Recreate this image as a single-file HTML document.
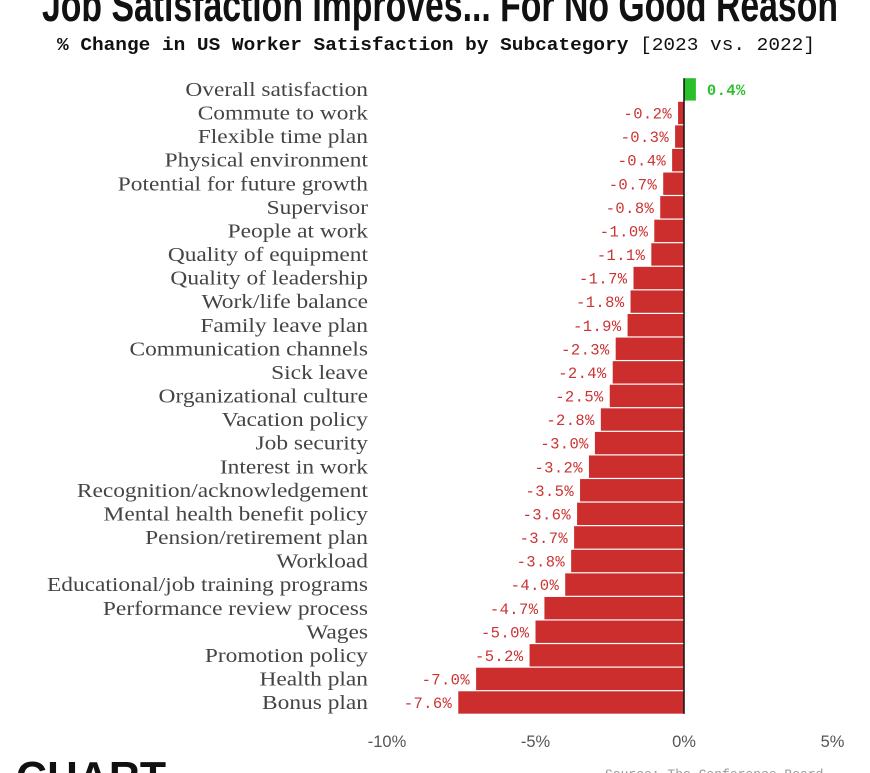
<!DOCTYPE html>
<html><head><meta charset="utf-8"><style>
body{margin:0;background:#fff;width:870px;height:773px;overflow:hidden;position:relative;font-family:"Liberation Sans",sans-serif}
</style></head><body>
<svg id="chart" width="870" height="773" style="position:absolute;left:0;top:0">
<text x="42" y="21" textLength="796" lengthAdjust="spacingAndGlyphs" font-family="Liberation Sans, sans-serif" font-weight="bold" font-size="46" fill="#111">Job Satisfaction Improves... For No Good Reason</text>
<text x="57" y="50" textLength="758" lengthAdjust="spacingAndGlyphs" font-family="Liberation Mono, monospace" font-size="18" fill="#111"><tspan font-weight="bold">% Change in US Worker Satisfaction by Subcategory</tspan> [2023 vs. 2022]</text>
</svg>
<script>
const categories=["Overall satisfaction","Commute to work","Flexible time plan","Physical environment","Potential for future growth","Supervisor","People at work","Quality of equipment","Quality of leadership","Work/life balance","Family leave plan","Communication channels","Sick leave","Organizational culture","Vacation policy","Job security","Interest in work","Recognition/acknowledgement","Mental health benefit policy","Pension/retirement plan","Workload","Educational/job training programs","Performance review process","Wages","Promotion policy","Health plan","Bonus plan"];
const values=[0.4,-0.2,-0.3,-0.4,-0.7,-0.8,-1.0,-1.1,-1.7,-1.8,-1.9,-2.3,-2.4,-2.5,-2.8,-3.0,-3.2,-3.5,-3.6,-3.7,-3.8,-4.0,-4.7,-5.0,-5.2,-7.0,-7.6];
const ticks=[-10,-5,0,5];
const tickLabels=["-10%","-5%","0%","5%"];
const svg=document.getElementById('chart');
const NS="http://www.w3.org/2000/svg";
const x=v=>684+v*29.7;
const rowH=23.58, top0=78.2;
const y=i=>top0+i*rowH;
function mk(t,a){const e=document.createElementNS(NS,t);for(const k in a)e.setAttribute(k,a[k]);svg.appendChild(e);return e;}
categories.forEach((c,i)=>{
  const v=values[i];
  const r=mk('rect',{x:Math.min(x(v),x(0)),y:y(i),width:Math.abs(x(v)-x(0)),height:rowH-1.2,fill:v>=0?'#2bbf2b':'#cc2e2e'});
  
  
  const l=mk('text',{x:368,y:y(i)+rowH/2+6,'text-anchor':'end','font-family':'"Liberation Serif",serif','font-size':'20',fill:'#444'});
  l.textContent=c;
  const len=l.getComputedTextLength();
  l.setAttribute('textLength',len*1.17);
  l.setAttribute('lengthAdjust','spacingAndGlyphs');
  
  
  const vt=mk('text',{x:v>=0?x(v)+11:x(v)-6,y:y(i)+rowH/2+5,'text-anchor':v>=0?'start':'end','font-family':'"Liberation Mono",monospace','font-size':'15.5',fill:v>=0?'#2bbf2b':'#cc3333','font-weight':v>=0?'bold':'normal','letter-spacing':'0.4'});
  vt.textContent=v.toFixed(1)+'%';
  
  
});
const zl=mk('line',{x1:x(0),x2:x(0),y1:top0,y2:y(categories.length)-1,stroke:'#111','stroke-width':1.5});


ticks.forEach((t,i)=>{
  const e=mk('text',{x:x(t),y:747,'text-anchor':'middle','font-size':'16.5',fill:'#555','font-family':'"Liberation Sans",sans-serif'});
  e.textContent=tickLabels[i];
  
  
});
const logo=mk('text',{x:16,y:792,'font-size':'44','font-weight':'bold',fill:'#111','font-family':'"Liberation Sans",sans-serif','textLength':'150','lengthAdjust':'spacingAndGlyphs'});
logo.textContent='CHART';


const src=mk('text',{x:605,y:778,'font-size':'13',fill:'#999','font-family':'"Liberation Mono",monospace'});
src.textContent='Source: The Conference Board';


</script>
</body></html>
